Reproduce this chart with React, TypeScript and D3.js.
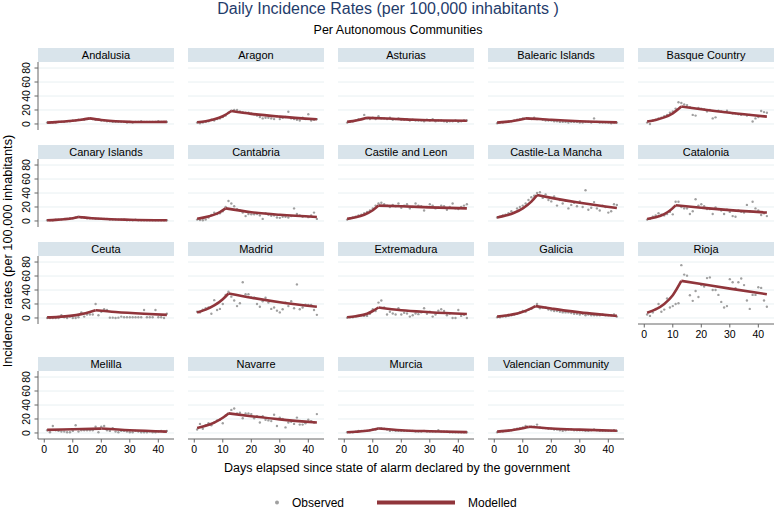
import React from "react";
import * as d3 from "d3";

const regions = [
  "Andalusia", "Aragon", "Asturias", "Balearic Islands", "Basque Country",
  "Canary Islands", "Cantabria", "Castile and Leon", "Castile-La Mancha", "Catalonia",
  "Ceuta", "Madrid", "Extremadura", "Galicia", "Rioja",
  "Melilla", "Navarre", "Murcia", "Valencian Community",
];

const days = d3.range(1, 44);
const xTicks = [0, 10, 20, 30, 40];
const yTicks = [0, 20, 40, 60, 80];

// Observed daily incidence (days 1..43)
const obsAndalusia = [2,2,2,2,3,3,3,4,4,5,5,6,6,6,7,8,7,6,6,5,5,4,4,3,3,3,3,3,2,3,2,3,3,4,3,3,3,3,3,4,3,3,3];
const obsAragon = [2,1,2,3,4,6,5,7,8,10,12,16,19,20,20,18,17,16,16,15,14,12,10,8,9,9,8,7,11,7,9,10,17.5,8,7,6,5,9,7,14,5,6,7];
const obsAsturias = [2,3,4,5,7,7,13,8,7,9,7,11,8,8,7,9,6,7,8,6,6,7,5,6,5,5,5,4,6,5,7,4,5,5,4,3,4,4,5,3,4,5,5];
const obsBalearic = [1,2,2,3,3,4,5,6,7,8,8,8,7,9,7,7,6,5,5,5,4,4,3,3,3,2,3,3,3,2,2,3,3,2,8,3,2,2,2,2,1,2,2];
const obsBasque = [2,0,5,6,8,9,11,13,16,18,22,31,30,28,27,24,13,12,23,22,21,18,20,8,9.5,19,18,17,19,16,15,15,14,13,14,12,13,3.5,8,10,18.5,17,16];
const obsCanary = [1,1,1,2,2,2,3,3,4,4,5,6,5,5,4,4,4,3,3,3,3,3,2,2,2,2,2,2,1,1,1,2,1,1,1,1,1,1,1,1,1,1,1];
const obsCantabria = [2,1.5,1,2,5,8.5,12,10,11,14,20,28.5,25,21,17,15,12,7,10,9.5,9.5,10,8,3,11,9,7.5,8,5,4.5,6,6,5,7,18,10,8,6,7,5.5,8,12,3];
const obsCastileLeon = [2,4,5,6,8,9,11,13,15,18,22,25,26,24,22,20,23,21,25,19,22,24,18,20,25,22,21,15,20,24,22,18,19,22,21,16,20,25,18,17,20,22,24];
const obsCastileMancha = [5,6,8,9,11,14,12,18,20,22,25,30,34,36,40,41,33,38,30,28,35,22,30,25,29,18,23,26,21,28,20,44,16,19,27,18,15,22,20,12,14,24,23];
const obsCatalonia = [2,3,6,8,11,9,8,10,13,9.5,27.5,27.5,20,18,18,10,14,31,22,24,21,17,17,10,19.5,17,15,10,16,13,7,6,15,13.3,12,23,14,27.5,18,15,8.5,11,7];
const obsCeuta = [0,0,0,0,0,4,1,0,2,0,0,1,8,2,5,5,5,20,4,9,12.5,11.5,0.5,0.5,0,0.5,2,1,1,1,1,1,1,1,11.5,1,1,1,11.5,1,1,0,6];
const obsMadrid = [9,8,12,14,15,6,25.5,11.5,13,20,33,37.5,30.5,25,17,21,51,34,34,29.5,29.5,20,16,24,29,22,13,15,10.5,8,12.5,22,17,24,14,48,12.5,15,19,18.5,18.5,11.5,4.5];
const obsExtremadura = [0.5,1,1,2,3,4,3,3,6,12.5,10,22,25,15,5,9,6.5,5,14,5,7.5,6.5,2,4,6.5,5.5,8,14,6,9,2,5,10.5,12.5,10,4,6.5,0,0,11.5,3,4.5,0];
const obsGalicia = [1,1,2,2,3,4,5,6,8,10,9,12,13,16,20,14,15,15,12,11,10,10,9,8,8,8,7,6,6,5,6,4,5,4,4,4,4,5,4,4,4,5,2];
const obsRioja = [5,3,8,13,20,9,12,28,15,17,20,21,75.5,62,60.5,32.5,24.5,38.5,30,47,45,57,58,40,40,33,23,15,17,55.5,51,42.5,51,56.5,47,25,13,33,33,44,43,25,16];
const obsMelilla = [4,1,10,4,3,2,2,1,1,3,11,2,4,4,4,4,4,9,1,9,10,4,3,7,2,1,3,3,2,1,1,3,2,1,1,1,2,1,1,2,3,2,3];
const obsNavarre = [5,13,6,11,14,11,15,18,19,14,25,28,33,35,28,29,21,28,28,27,21,24,15,24,19,18,17,26,10,22,20,8,15,16,13,22,12,12,14,19,17,15,27];
const obsMurcia = [1,1,1,2,3,3,3,3,4,5,5,7,7,6,5,3,4,3,3,3,3,3,3,3,2,2,2,3,2,2,2,2,4,2,2,2,1,1,1,1,1,1,1];
const obsValencian = [1,2,2,3,3,4,5,6,7,8,10,8,9,9,12,8,7,7,6,6,5,5,4,3,4,5,5,4,4,4,4,3,3,4,5,4,3,3,3,3,3,4,3];

// Modelled curve, read as [day, value] points (peak splits rise and decline)
const modAndalusia = [[1,2],[4,2.6],[7,3.5],[10,4.6],[13,6.1],[16,8],[20,5.8],[25,3.8],[30,3],[36,2.8],[43,3]];
const modAragon = [[1,2.4],[4,4],[7,6.7],[10,11.1],[13,18.5],[20,14.5],[30,10.5],[43,6.7]];
const modAsturias = [[1,3],[3,4.1],[5,5.6],[8,8.8],[15,7.8],[25,6],[35,5],[43,4.6]];
const modBalearic = [[1,2],[4,3],[7,4.6],[9,6.1],[11,8],[16,7.2],[20,6],[30,3.8],[43,2.3]];
const modBasque = [[1,3.5],[4,5.7],[7,9.4],[10,15.3],[13,25],[20,21],[30,16],[43,10.5]];
const modCanary = [[1,1],[4,1.6],[7,2.5],[10,4],[12,5.8],[20,3.2],[30,1.8],[43,1]];
const modCantabria = [[1,3.3],[4,5.5],[7,9.1],[9,12.8],[11,18],[20,12.5],[30,8.8],[43,5.7]];
const modCastileLeon = [[1,3],[4,5.2],[7,8.9],[10,15.3],[12,22],[20,21],[30,19.5],[43,18]];
const modCastileMancha = [[1,5],[4,7.7],[7,11.8],[10,18.1],[13,27.7],[15,37],[20,33],[30,26],[43,18.5]];
const modCatalonia = [[1,2.9],[4,5.4],[7,9.9],[9,14.9],[11,22.4],[20,19],[30,15.5],[43,12]];
const modCeuta = [[1,0.8],[5,1.6],[9,3],[13,5.5],[16,8.5],[18,11],[25,8.5],[35,6],[43,4.5]];
const modMadrid = [[1,8],[4,12],[7,17.9],[10,26.8],[12,35],[20,29],[30,22.5],[43,16]];
const modExtremadura = [[1,1],[4,2.5],[8,6],[10,10],[12,15],[20,11],[30,8.3],[43,5.7]];
const modGalicia = [[1,2],[4,3.5],[7,5.5],[9,7.5],[12,12],[14.5,17],[20,13.5],[25,10.5],[30,8],[36,5.5],[43,3]];
const modRioja = [[1,7.6],[4,12.3],[7,20.1],[10,32.6],[13,53],[20,48.5],[30,42],[43,34]];
const modMelilla = [[1,4.5],[10,5.3],[20,6.3],[30,3.8],[43,2]];
const modNavarre = [[1,7],[4,10.2],[7,14.9],[10,21.8],[12,28],[20,24],[30,19.5],[43,15]];
const modMurcia = [[1,1],[4,1.8],[7,2.8],[10,4.6],[12,6.5],[20,4],[30,2.5],[43,1.2]];
const modValencian = [[1,2],[4,3],[7,4.5],[10,6.8],[12,9],[20,6.5],[30,4.8],[43,3.3]];

const observed = [
  obsAndalusia, obsAragon, obsAsturias, obsBalearic, obsBasque,
  obsCanary, obsCantabria, obsCastileLeon, obsCastileMancha, obsCatalonia,
  obsCeuta, obsMadrid, obsExtremadura, obsGalicia, obsRioja,
  obsMelilla, obsNavarre, obsMurcia, obsValencian,
];
const modelled = [
  modAndalusia, modAragon, modAsturias, modBalearic, modBasque,
  modCanary, modCantabria, modCastileLeon, modCastileMancha, modCatalonia,
  modCeuta, modMadrid, modExtremadura, modGalicia, modRioja,
  modMelilla, modNavarre, modMurcia, modValencian,
];

const W = 776;
const H = 509;
const FONT = "'Liberation Sans', Arial, sans-serif";
const LINE_COLOR = "#90353b";
const DOT_COLOR = "#a0a0a0";
const STRIP = "#d9e4eb";
const GRID = "#e8f0f2";

export default function App() {
  const pw = 136;
  const ph = 68;
  const sh = 14;
  const x = d3.scaleLinear().domain([-2.2, 45.5]).range([0, pw]);
  const y = d3.scaleLinear().domain([-8.6, 88.6]).range([ph, 0]);
  const line = d3
    .line<number[]>()
    .x((d) => x(d[0]))
    .y((d) => y(d[1]))
    .curve(d3.curveMonotoneX);

  const panelLeft = (c: number) => 38 + 150 * c;
  const headerTop = (r: number) => (r < 3 ? 48 + 97 * r : 48 + 97 * 3 + 18);

  return (
    <svg
      width={W}
      height={H}
      style={{ position: "absolute", left: 0, top: 0, background: "#fff" }}
      fontFamily={FONT}
    >
      <rect width={W} height={H} fill="#fff" />
      <text x={388} y={14} textAnchor="middle" fontSize={16} fill="#1f3c6b">
        Daily Incidence Rates (per 100,000 inhabitants )
      </text>
      <text x={398} y={34} textAnchor="middle" fontSize={12.5} fill="#000">
        Per Autonomous Communities
      </text>

      {regions.map((name, i) => {
        const r = Math.floor(i / 5);
        const c = i % 5;
        const left = panelLeft(c);
        const top = headerTop(r) + sh;
        const showY = c === 0;
        const showX = i + 5 >= regions.length;
        const mod = modelled[i];
        let pk = 0;
        mod.forEach((p, k) => {
          if (p[1] > mod[pk][1]) pk = k;
        });
        const rise = mod.slice(0, pk + 1);
        const fall = mod.slice(pk);
        return (
          <g key={name}>
            <rect x={left} y={headerTop(r)} width={pw} height={sh} fill={STRIP} />
            <text
              x={left + pw / 2}
              y={headerTop(r) + 11}
              textAnchor="middle"
              fontSize={11}
              fill="#000"
            >
              {name}
            </text>
            <g transform={`translate(${left},${top})`}>
              {yTicks.map((t) => (
                <line key={t} x1={0} x2={pw} y1={y(t)} y2={y(t)} stroke={GRID} strokeWidth={1} />
              ))}
              {showY && (
                <g>
                  <line x1={0} x2={0} y1={0} y2={ph} stroke="#666" strokeWidth={1} />
                  {yTicks.map((t) => (
                    <g key={t}>
                      <line x1={-3.5} x2={0} y1={y(t)} y2={y(t)} stroke="#666" />
                      <text
                        transform={`translate(${-8},${y(t)}) rotate(-90)`}
                        textAnchor="middle"
                        fontSize={10.5}
                        fill="#000"
                      >
                        {t}
                      </text>
                    </g>
                  ))}
                </g>
              )}
              {showX && (
                <g>
                  <line x1={0} x2={pw} y1={ph} y2={ph} stroke="#666" strokeWidth={1} />
                  {xTicks.map((t) => (
                    <g key={t}>
                      <line x1={x(t)} x2={x(t)} y1={ph} y2={ph + 3.5} stroke="#666" />
                      <text x={x(t)} y={ph + 14} textAnchor="middle" fontSize={10.5} fill="#000">
                        {t}
                      </text>
                    </g>
                  ))}
                </g>
              )}
              {observed[i].map((v, k) => (
                <circle key={k} cx={x(days[k])} cy={y(v)} r={1.2} fill={DOT_COLOR} />
              ))}
              <path d={line(rise) || ""} fill="none" stroke={LINE_COLOR} strokeWidth={2.6} strokeLinejoin="round" />
              <path d={line(fall) || ""} fill="none" stroke={LINE_COLOR} strokeWidth={2.6} strokeLinejoin="round" />
            </g>
          </g>
        );
      })}

      <text x={397} y={472} textAnchor="middle" fontSize={12.5} fill="#000">
        Days elapsed since state of alarm declared by the government
      </text>
      <text
        transform="translate(12,251) rotate(-90)"
        textAnchor="middle"
        fontSize={12.8}
        fill="#000"
      >
        Incidence rates (per 100,000 inhabitants)
      </text>

      <circle cx={277} cy={502.5} r={2} fill={DOT_COLOR} />
      <text x={292} y={506.5} fontSize={12} fill="#000">
        Observed
      </text>
      <line x1={377} x2={455} y1={502.5} y2={502.5} stroke={LINE_COLOR} strokeWidth={4} />
      <text x={468} y={506.5} fontSize={12} fill="#000">
        Modelled
      </text>
    </svg>
  );
}
